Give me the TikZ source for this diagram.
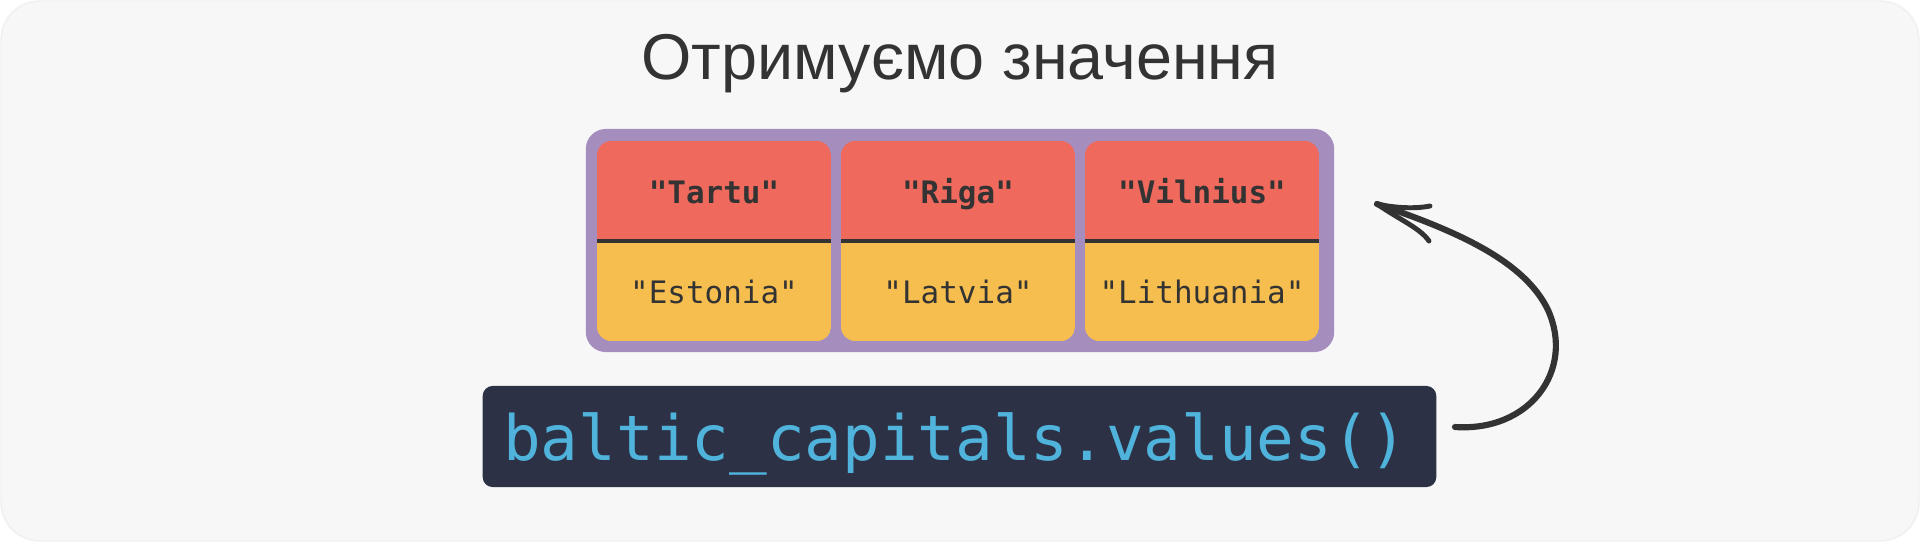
\documentclass[tikz,border=0pt]{standalone}
\usepackage{fontspec}
\setmainfont{Liberation Sans}
\newfontfamily\codefont{DejaVu Sans Mono}
\definecolor{bg}{HTML}{F7F7F7}
\definecolor{purp}{HTML}{A58DBE}
\definecolor{cellred}{HTML}{EF695D}
\definecolor{cellyel}{HTML}{F6BE4F}
\definecolor{ink}{HTML}{333333}
\definecolor{codebg}{HTML}{2C3145}
\definecolor{codefg}{HTML}{4FB3DC}
\tikzset{
  keytext/.style={font=\codefont\bfseries\fontsize{8.8}{10}\selectfont, text=ink, anchor=base, inner sep=0},
  valtext/.style={font=\codefont\fontsize{8.8}{10}\selectfont, text=ink, anchor=base, inner sep=0},
  arrowline/.style={draw=ink, line width=1.75pt, line cap=round},
  barb/.style={draw=ink, line width=1.4pt, line cap=round},
}
\begin{document}
\begin{tikzpicture}[x=0.01cm,y=-0.01cm]
\useasboundingbox (0,0) rectangle (1920,542);
\draw[fill=bg, draw=black!6, rounded corners=11pt] (1,1) rectangle (1919,541);
\node[font=\fontsize{18.4}{22}\selectfont, text=ink, anchor=base, inner sep=0] (title) at (960,79.5) {Отримуємо значення};
\node[fill=purp, rounded corners=5.7pt, minimum width=7.48cm, minimum height=2.23cm, inner sep=0] (box) at (960,240.5) {};
\foreach \x/\k/\v/\n in {597/Tartu/Estonia/a, 841/Riga/Latvia/b, 1085/Vilnius/Lithuania/c}{
  \begin{scope}
    \clip[rounded corners=4pt] (\x,141) rectangle ++(234,200);
    \fill[cellred] (\x,141) rectangle ++(234,100);
    \fill[cellyel] (\x,241) rectangle ++(234,100);
  \end{scope}
  \draw[ink, line width=1.1pt] (\x,241) -- ++(234,0);
  \node[keytext] (key\n) at (\x+117,203) {"\k"};
  \node[valtext] (val\n) at (\x+117,303) {"\v"};
}
\node[fill=codebg, rounded corners=2.8pt, minimum width=9.53cm, minimum height=1.01cm, inner sep=0] (code) at (959.5,436.5) {};
\node[font=\codefont\fontsize{17.8}{22}\selectfont, text=codefg, anchor=base, inner sep=0] (codetext) at (955.5,460) {baltic\_capitals.values()};
\coordinate (arrstart) at (1455,427);
\coordinate (arrtip) at (1377,204);
\draw[arrowline] (arrstart) .. controls (1530,432) and (1575,370) .. (1548,310)
  .. controls (1525,262) and (1460,232) .. (arrtip);
\draw[barb] (arrtip) .. controls (1395,208) and (1415,209) .. (1430,206);
\draw[barb] (arrtip) .. controls (1400,220) and (1420,228) .. (1429,241);
\end{tikzpicture}
\end{document}
